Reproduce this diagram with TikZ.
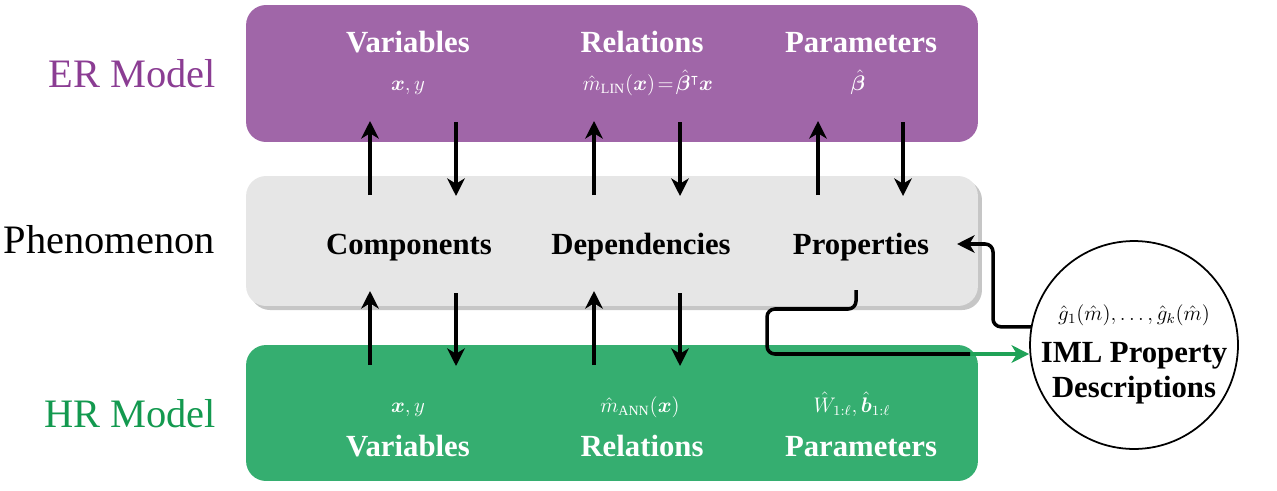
\documentclass[tikz,border=0pt]{standalone}
\usepackage{amssymb}
\usepackage{amsmath}
\usepackage{bm}
\usepackage{fontspec}
\setmainfont{Liberation Serif}
\usepackage{tikz}
\usetikzlibrary{%
	arrows.meta,%
	shadows%
}

\definecolor{erfill}{HTML}{A066A8}
\definecolor{ertext}{HTML}{8B3D93}
\definecolor{hrfill}{HTML}{35AE70}
\definecolor{hrtext}{HTML}{13994F}
\definecolor{phfill}{HTML}{E6E6E6}
\definecolor{phshadow}{HTML}{C6C6C6}
\definecolor{imlgreen}{HTML}{1FA257}

\tikzset{
	block/.style={rounded corners=0.4cm, minimum width=14.64cm, inner sep=0pt},
	lbl/.style={anchor=base, font=\fontsize{17.5}{20}\selectfont\bfseries},
	mth/.style={anchor=base, font=\fontsize{12}{14}\selectfont},
	side/.style={anchor=base east, font=\fontsize{23}{26}\selectfont},
	flow/.style={line width=2pt, -{Stealth[length=10pt,width=10pt,inset=3pt]}}
}

\begin{document}
\begin{tikzpicture}[x=0.02cm, y=-0.02cm]
		\useasboundingbox (0,0) rectangle (1277,490);
		
		% Boxes
		\node[block, fill=erfill, minimum height=2.74cm] (er) at (612,73.5) {};
		\node[block, fill=phfill, minimum height=2.6cm,
			drop shadow={shadow xshift=2.3pt, shadow yshift=-2.3pt, fill=phshadow, opacity=1}] (ph) at (612,241) {};
		\node[block, fill=hrfill, minimum height=2.72cm] (hr) at (612,413) {};
		
		% Side labels
		\node[side, text=ertext] (erlbl) at (222,87) {ER Model};
		\node[side] (phlbl) at (221,253) {Phenomenon};
		\node[side, text=hrtext] (hrlbl) at (222,427) {HR Model};
		
		% ER model
		\node[lbl, text=white] (ervar) at (408,52) {Variables};
		\node[lbl, text=white] (errel) at (642,52) {Relations};
		\node[lbl, text=white] (erpar) at (861,52) {Parameters};
		\node[mth, text=white] (erx) at (408,90) {$\bm{x}, y$};
		\node[mth, text=white] (erm) at (648,90) {$\hat{m}_{\mathrm{LIN}}(\bm{x})\!=\!\hat{\bm{\beta}}^{\intercal}\bm{x}$};
		\node[mth, text=white] (erb) at (858,90) {$\hat{\bm{\beta}}$};
		
		% Phenomenon
		\node[lbl] (comp) at (409,254) {Components};
		\node[lbl] (dep) at (641,254) {Dependencies};
		\node[lbl] (prop) at (861,254) {Properties};
		
		% HR model
		\node[mth, text=white] (hrx) at (408,412) {$\bm{x}, y$};
		\node[mth, text=white] (hrm) at (640,412) {$\hat{m}_{\mathrm{ANN}}(\bm{x})$};
		\node[mth, text=white] (hrw) at (852,412) {$\hat{W}_{1:\ell}, \hat{\bm{b}}_{1:\ell}$};
		\node[lbl, text=white] (hrvar) at (408,456) {Variables};
		\node[lbl, text=white] (hrrel) at (642,456) {Relations};
		\node[lbl, text=white] (hrpar) at (861,456) {Parameters};
		
		% IML circle
		\node[circle, draw, line width=1pt, minimum size=4.16cm, inner sep=0pt] (iml) at (1134,345) {};
		\node[mth, font=\fontsize{11.5}{13}\selectfont] (imlg) at (1134,320) {$\hat{g}_1(\hat{m}), \ldots, \hat{g}_k(\hat{m})$};
		\node[lbl] (imlt) at (1134,362) {IML Property};
		\node[lbl] (imld) at (1134,397) {Descriptions};
		
		% Arrows between ER model and phenomenon
		\foreach \u/\d in {370/456,594/680,818/903}{
			\coordinate (ua\u) at (\u,195);
			\coordinate (ub\u) at (\u,121);
			\coordinate (da\d) at (\d,122);
			\coordinate (db\d) at (\d,196);
			\draw[flow] (ua\u) -- (ub\u);
			\draw[flow] (da\d) -- (db\d);
		}
		
		% Arrows between phenomenon and HR model
		\foreach \u/\d in {370/456,594/680}{
			\coordinate (uc\u) at (\u,365);
			\coordinate (ud\u) at (\u,291);
			\coordinate (dc\d) at (\d,293);
			\coordinate (dd\d) at (\d,366);
			\draw[flow] (uc\u) -- (ud\u);
			\draw[flow] (dc\d) -- (dd\d);
		}
		
		% Properties to IML and back
		\coordinate (pdn) at (856,290);
		\coordinate (bend) at (767,309);
		\coordinate (gs) at (970,354);
		\coordinate (rt) at (993,244);
		\coordinate (pin) at (957,244);
		\draw[flow, draw=imlgreen, fill=imlgreen] (gs) -- (gs -| iml.west);
		\draw[line width=2pt, rounded corners=4.5pt] (pdn) |- (bend) |- (gs);
		\draw[flow, rounded corners=4.5pt] (iml.170) -| (rt) -- (pin);
	\end{tikzpicture}
\end{document}
